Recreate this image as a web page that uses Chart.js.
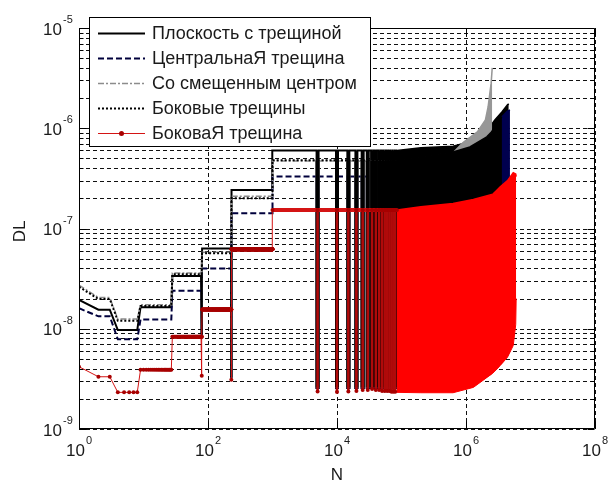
<!DOCTYPE html>
<html>
<head>
<meta charset="utf-8">
<script src="https://cdn.jsdelivr.net/npm/chart.js@4.4.1/dist/chart.umd.min.js"></script>
<style>
  html, body { margin: 0; padding: 0; background: #ffffff; }
  #wrap { width: 616px; height: 482px; }
</style>
</head>
<body>
<div id="wrap"><canvas id="chart" width="616" height="482"></canvas></div>
<script>
// Plateau boundaries in cycle count N, shared by all five curves
const stepStart = [1, 2, 4, 9, 28, 81, 231, 1000];
const stepEnd   = [1, 3, 8, 27, 80, 230, 1000, 85000];

// DL on each plateau
const planeLevels   = [1.94e-8, 1.55e-8, 9.7e-9, 1.64e-8, 3.36e-8, 6.3e-8, 2.42e-7, 6.0e-7];
const centralLevels = [1.6e-8, 1.33e-8, 7.85e-9, 1.24e-8, 2.4e-8, 4.0e-8, 1.42e-7, 3.3e-7];
const offsetLevels  = [2.72e-8, 2.05e-8, 1.25e-8, 1.74e-8, 3.6e-8, 5.8e-8, 2.1e-7, 4.7e-7];
const sideLevels    = [2.62e-8, 1.98e-8, 1.2e-8, 1.69e-8, 3.49e-8, 5.66e-8, 2.0e-7, 4.8e-7];
const crackLevels   = [4.18e-9, 3.32e-9, 2.32e-9, 3.9e-9, 8.3e-9, 1.56e-8, 6.2e-8, 1.53e-7];

// Cycle counts where the curves drop sharply, and the DL reached at each drop
const dropN        = [80, 230, 5000, 10000, 15000, 20000, 25000, 30000, 35000, 40000, 45000, 50000, 55000, 60000, 65000, 70000, 75000, 80000];
const planeDrops   = [8.7e-9, 3.2e-9, 2.5e-9, 2.5e-9, 2.5e-9, 2.5e-9, 2.5e-9, 2.5e-9, 2.5e-9, 2.5e-9, 2.5e-9, 2.5e-9, 2.5e-9, 2.5e-9, 2.5e-9, 2.5e-9, 2.5e-9, 2.5e-9];
const centralDrops = [8.5e-9, 3.2e-9, 2.5e-9, 2.5e-9, 2.5e-9, 2.5e-9, 2.5e-9, 2.5e-9, 2.5e-9, 2.5e-9, 2.5e-9, 2.5e-9, 2.5e-9, 2.5e-9, 2.5e-9, 2.5e-9, 2.5e-9, 2.5e-9];
const offsetDrops  = [9.0e-9, 3.3e-9, 2.6e-9, 2.6e-9, 2.6e-9, 2.6e-9, 2.6e-9, 2.6e-9, 2.6e-9, 2.6e-9, 2.6e-9, 2.6e-9, 2.6e-9, 2.6e-9, 2.6e-9, 2.6e-9, 2.6e-9, 2.6e-9];
const sideDrops    = [8.8e-9, 3.3e-9, 2.6e-9, 2.6e-9, 2.6e-9, 2.6e-9, 2.6e-9, 2.6e-9, 2.6e-9, 2.6e-9, 2.6e-9, 2.6e-9, 2.6e-9, 2.6e-9, 2.6e-9, 2.6e-9, 2.6e-9, 2.6e-9];
const crackDrops   = [3.4e-9, 3.1e-9, 2.36e-9, 2.34e-9, 2.36e-9, 2.4e-9, 2.45e-9, 2.45e-9, 2.5e-9, 2.45e-9, 2.45e-9, 2.4e-9, 2.4e-9, 2.4e-9, 2.4e-9, 2.35e-9, 2.35e-9, 2.35e-9];

// Dense oscillation zone: upper and lower envelopes of each curve
const planeBandN     = [85000, 2.0e5, 6.3e5, 1.2e6, 2.0e6, 2.8e6, 3.6e6, 4.4e6, 4.6e6];
const planeBandTop   = [6.0e-7, 6.4e-7, 6.6e-7, 7.4e-7, 9.0e-7, 1.21e-6, 1.45e-6, 1.71e-6, 1.75e-6];
const planeBandLow   = [2.5e-9, 2.5e-9, 2.5e-9, 2.8e-9, 3.3e-9, 3.9e-9, 4.6e-9, 5.4e-9, 5.8e-9];
const centralBandN   = [85000, 6.3e5, 2.0e6, 3.0e6, 3.6e6, 4.4e6, 4.8e6];
const centralBandTop = [3.3e-7, 4.0e-7, 6.5e-7, 1.0e-6, 1.3e-6, 1.48e-6, 1.52e-6];
const centralBandLow = [2.5e-9, 2.5e-9, 3.3e-9, 4.0e-9, 4.6e-9, 5.4e-9, 6.0e-9];
const offsetBandN    = [85000, 6.3e5, 9.0e5, 1.5e6, 2.0e6, 2.2e6, 2.45e6, 2.55e6];
const offsetBandTop  = [4.7e-7, 5.7e-7, 7.2e-7, 9.2e-7, 1.21e-6, 1.63e-6, 2.8e-6, 4.0e-6];
const offsetBandLow  = [2.6e-9, 2.6e-9, 2.6e-9, 2.9e-9, 3.2e-9, 3.4e-9, 3.5e-9, 3.6e-9];
const sideBandN      = [85000, 6.3e5, 1.15e6, 2.1e6, 2.5e6, 3.0e6, 3.6e6];
const sideBandTop    = [4.8e-7, 5.8e-7, 6.5e-7, 8.2e-7, 9.2e-7, 1.15e-6, 1.3e-6];
const sideBandLow    = [2.6e-9, 2.6e-9, 2.7e-9, 3.3e-9, 3.6e-9, 4.0e-9, 4.6e-9];
const crackBandN     = [85000, 2.0e5, 6.3e5, 1.3e6, 2.6e6, 3.4e6, 4.4e6, 5.4e6, 5.9e6, 6.0e6];
const crackBandTop   = [1.53e-7, 1.65e-7, 1.78e-7, 1.95e-7, 2.2e-7, 2.6e-7, 3.0e-7, 3.6e-7, 3.5e-7, 3.3e-7];
const crackBandLow   = [2.32e-9, 2.3e-9, 2.3e-9, 2.6e-9, 3.6e-9, 4.3e-9, 5.2e-9, 6.8e-9, 1.1e-8, 2.0e-8];

// Legend entries and axis tick exponents
const legendLabels = ['Плоскость с трещиной', 'ЦентральнаЯ трещина', 'Со смещенным центром', 'Боковые трещины', 'БоковаЯ трещина'];
const xTickExp = [0, 2, 4, 6, 8];
const yTickExp = [-9, -8, -7, -6, -5];
const yMinorMult = [2, 3, 4, 5, 6, 7, 8, 9];

// Line styles of the five curves
const seriesStyle = [
  { color: '#000000', width: 2,   dash: [],           band: '#000000' },
  { color: '#00003c', width: 2,   dash: [6, 3],       band: '#00004e' },
  { color: '#8c8c8c', width: 1.5, dash: [6, 2, 2, 2], band: '#979797' },
  { color: '#000000', width: 2,   dash: [2, 2],       band: '#000000' },
  { color: '#d41414', width: 1,   dash: [],           band: '#ff0000', marker: '#a80000' }
];

const seriesData = [
  { levels: planeLevels,   drops: planeDrops,   bandN: planeBandN,   top: planeBandTop,   low: planeBandLow },
  { levels: centralLevels, drops: centralDrops, bandN: centralBandN, top: centralBandTop, low: centralBandLow },
  { levels: offsetLevels,  drops: offsetDrops,  bandN: offsetBandN,  top: offsetBandTop,  low: offsetBandLow },
  { levels: sideLevels,    drops: sideDrops,    bandN: sideBandN,    top: sideBandTop,    low: sideBandLow },
  { levels: crackLevels,   drops: crackDrops,   bandN: crackBandN,   top: crackBandTop,   low: crackBandLow }
];

function levelAt(levels, n) {
  for (let i = 0; i < stepStart.length; i++) {
    if (n >= stepStart[i] && n <= stepEnd[i]) return levels[i];
  }
  return levels[levels.length - 1];
}

// Step curve: every integer cycle on the early plateaus, then the drops spliced in
function stepPoints(levels, drops) {
  const pts = [];
  stepStart.forEach((n0, i) => {
    const n1 = stepEnd[i];
    if (n1 <= 1000) {
      for (let n = n0; n <= n1; n++) pts.push({ x: n, y: levels[i] });
    } else {
      pts.push({ x: n0, y: levels[i] });
      pts.push({ x: n1, y: levels[i] });
    }
  });
  const out = [];
  let k = 0;
  for (const p of pts) {
    while (k < dropN.length && dropN[k] < p.x) {
      const lv = levelAt(levels, dropN[k]);
      out.push({ x: dropN[k], y: lv }, { x: dropN[k], y: drops[k] }, { x: dropN[k], y: lv });
      k++;
    }
    out.push(p);
    while (k < dropN.length && dropN[k] === p.x) {
      out.push({ x: p.x, y: drops[k] }, { x: p.x, y: p.y });
      k++;
    }
  }
  return out;
}

const zip = (xs, ys) => xs.map((x, i) => ({ x: x, y: ys[i] }));

// Thicker strokes for the late drops and for the flat runs of the marked curve
const isLateDrop = ctx => ctx.p0.parsed.x === ctx.p1.parsed.x && ctx.p0.parsed.x >= 5000;
const isLateFlat = ctx => ctx.p0.parsed.y === ctx.p1.parsed.y && ctx.p0.parsed.x >= 1000;

const datasets = [];
seriesData.forEach((s, i) => {
  const st = seriesStyle[i];
  const order = 5 - i;
  const isCrack = i === 4;
  datasets.push({
    label: legendLabels[i],
    data: stepPoints(s.levels, s.drops),
    borderColor: st.color,
    borderWidth: st.width,
    borderDash: st.dash,
    pointRadius: isCrack ? 2 : 0,
    pointBackgroundColor: st.marker || st.color,
    pointBorderColor: st.marker || st.color,
    pointBorderWidth: 0,
    fill: false,
    tension: 0,
    order: order,
    segment: isCrack ? {
      borderWidth: ctx => isLateFlat(ctx) ? 4 : (isLateDrop(ctx) ? 2.6 : undefined),
      borderColor: ctx => isLateDrop(ctx) ? '#b00a0a' : undefined
    } : {
      borderWidth: ctx => isLateDrop(ctx) ? 4 : undefined,
      borderDash: ctx => isLateDrop(ctx) ? [] : undefined
    }
  });
  const topIndex = datasets.length;
  datasets.push({
    label: legendLabels[i] + ' max',
    data: zip(s.bandN, s.top),
    borderColor: st.band,
    borderWidth: 1.5,
    pointRadius: 0,
    fill: false,
    tension: 0,
    order: order
  });
  datasets.push({
    label: legendLabels[i] + ' min',
    data: zip(s.bandN, s.low),
    borderColor: st.band,
    borderWidth: 1,
    backgroundColor: st.band,
    pointRadius: 0,
    fill: { target: topIndex },
    tension: 0,
    order: order
  });
});

const FONT = '"Liberation Sans", Arial, sans-serif';
const TEXT = '#1a1a1a';

const axesDecor = {
  id: 'axesDecor',
  beforeDatasetsDraw(chart) {
    const { ctx, chartArea: a, scales: { x, y } } = chart;
    ctx.save();
    ctx.strokeStyle = '#111111';
    ctx.lineWidth = 1;
    ctx.setLineDash([4, 3]);
    ctx.beginPath();
    for (let e = -9; e < -5; e++) {
      [1].concat(yMinorMult).forEach(m => {
        const py = Math.round(y.getPixelForValue(m * Math.pow(10, e))) + 0.5;
        ctx.moveTo(a.left, py);
        ctx.lineTo(a.right, py);
      });
    }
    xTickExp.forEach(e => {
      const px = Math.round(x.getPixelForValue(Math.pow(10, e))) + 0.5;
      ctx.moveTo(px, a.bottom);
      ctx.lineTo(px, a.top);
    });
    ctx.stroke();
    ctx.restore();
  },
  afterDatasetsDraw(chart) {
    const { ctx, chartArea: a, scales: { x, y } } = chart;
    const L = Math.round(a.left) + 0.5, R = Math.round(a.right) - 0.5;
    const T = Math.round(a.top) + 0.5, B = Math.round(a.bottom) - 0.5;
    ctx.save();
    ctx.setLineDash([]);
    ctx.strokeStyle = '#000000';
    ctx.lineWidth = 1;
    ctx.beginPath();
    ctx.rect(L, T, R - L, B - T);
    for (let e = -9; e <= -5; e++) {
      const mults = e < -5 ? [1].concat(yMinorMult) : [1];
      mults.forEach(m => {
        const len = m === 1 ? 7 : 4;
        const py = Math.round(y.getPixelForValue(m * Math.pow(10, e))) + 0.5;
        ctx.moveTo(L, py); ctx.lineTo(L + len, py);
        ctx.moveTo(R, py); ctx.lineTo(R - len, py);
      });
    }
    xTickExp.forEach(e => {
      const px = Math.round(x.getPixelForValue(Math.pow(10, e))) + 0.5;
      ctx.moveTo(px, B); ctx.lineTo(px, B - 7);
      ctx.moveTo(px, T); ctx.lineTo(px, T + 7);
    });
    ctx.stroke();
    ctx.restore();
  },
  afterDraw(chart) {
    const { ctx, chartArea: a, scales: { x, y } } = chart;
    ctx.save();
    ctx.fillStyle = TEXT;
    ctx.textBaseline = 'middle';
    // y tick labels: 10 with a raised exponent
    yTickExp.forEach(e => {
      const py = y.getPixelForValue(Math.pow(10, e));
      ctx.font = '17px ' + FONT;
      ctx.textAlign = 'right';
      ctx.fillText('10', a.left - 17, py + 2);
      ctx.font = '11px ' + FONT;
      ctx.textAlign = 'left';
      ctx.fillText(String(e), a.left - 16, py - 8);
    });
    // x tick labels
    xTickExp.forEach(e => {
      const px = x.getPixelForValue(Math.pow(10, e));
      ctx.font = '17px ' + FONT;
      const w1 = ctx.measureText('10').width;
      ctx.font = '11px ' + FONT;
      const w2 = ctx.measureText(String(e)).width;
      const x0 = px - (w1 + w2 + 1) / 2;
      ctx.textAlign = 'left';
      ctx.font = '17px ' + FONT;
      ctx.fillText('10', x0, a.bottom + 22);
      ctx.font = '11px ' + FONT;
      ctx.fillText(String(e), x0 + w1 + 1, a.bottom + 12);
    });
    // axis titles
    ctx.font = '17px ' + FONT;
    ctx.textAlign = 'center';
    ctx.fillText('N', (a.left + a.right) / 2, a.bottom + 46);
    ctx.save();
    ctx.translate(20, (a.top + a.bottom) / 2 + 3);
    ctx.rotate(-Math.PI / 2);
    ctx.fillText('DL', 0, 0);
    ctx.restore();

    // legend box
    const bx = 89.5, by = 17.5, bw = 281, bh = 129;
    ctx.fillStyle = '#ffffff';
    ctx.fillRect(bx, by, bw, bh);
    ctx.strokeStyle = '#000000';
    ctx.lineWidth = 1;
    ctx.setLineDash([]);
    ctx.strokeRect(bx, by, bw, bh);
    legendLabels.forEach((label, i) => {
      const st = seriesStyle[i];
      const ry = 33 + i * 25;
      ctx.save();
      ctx.strokeStyle = st.color;
      ctx.lineWidth = st.width;
      ctx.setLineDash(st.dash);
      ctx.beginPath();
      ctx.moveTo(98, ry + 0.5);
      ctx.lineTo(145, ry + 0.5);
      ctx.stroke();
      if (st.marker) {
        ctx.fillStyle = st.marker;
        ctx.beginPath();
        ctx.arc(121.5, ry + 0.5, 2.5, 0, Math.PI * 2);
        ctx.fill();
      }
      ctx.restore();
      ctx.fillStyle = TEXT;
      ctx.font = '18px ' + FONT;
      ctx.textAlign = 'left';
      ctx.fillText(label, 152, ry + 1);
    });
    ctx.restore();
  }
};

new Chart(document.getElementById('chart'), {
  type: 'line',
  data: { datasets: datasets },
  options: {
    responsive: false,
    animation: false,
    devicePixelRatio: 1,
    layout: { padding: { left: 79, top: 28, right: 21, bottom: 53 } },
    plugins: { legend: { display: false }, tooltip: { enabled: false } },
    events: [],
    scales: {
      x: { type: 'logarithmic', min: 1, max: 1e8, display: false },
      y: { type: 'logarithmic', min: 1e-9, max: 1e-5, display: false }
    }
  },
  plugins: [axesDecor]
});
</script>
</body>
</html>
